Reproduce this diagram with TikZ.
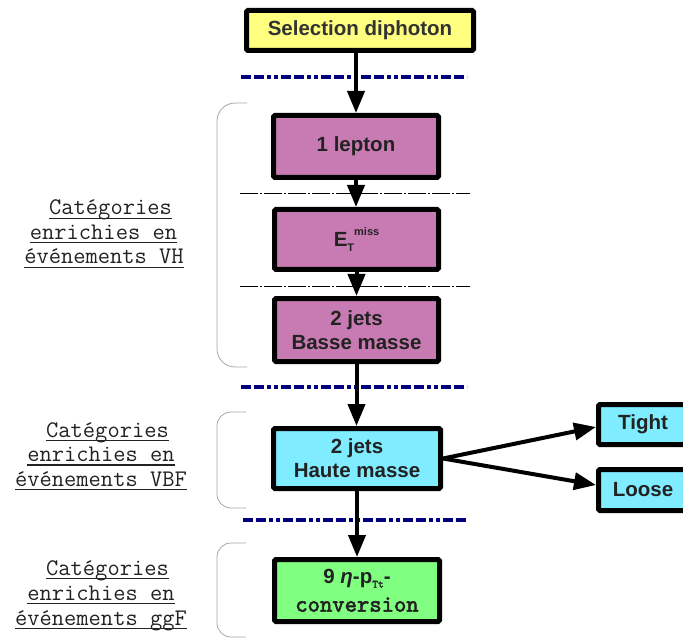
\documentclass[tikz,border=0pt]{standalone}
\usepackage{fontspec}
\setmainfont{Liberation Sans}
\setsansfont{Liberation Sans}
\newfontfamily\convfont{lmmono10-regular.otf}[FakeBold=2.5]
\usetikzlibrary{arrows.meta}
\definecolor{boxyellow}{HTML}{FFFF80}
\definecolor{boxpurple}{HTML}{C87BB2}
\definecolor{boxcyan}{HTML}{80ECFF}
\definecolor{boxgreen}{HTML}{80FF80}
\definecolor{navyline}{HTML}{000080}
\definecolor{inkgray}{HTML}{222222}
\newcommand\myul[1]{\setbox0\hbox{#1}\rlap{\rule[-4pt]{\wd0}{1.1pt}}\box0}
\begin{document}
\begin{tikzpicture}[x=1pt,y=-1pt,
 catbox/.style={draw=black, line width=5pt, rounded corners=1.5pt, font=\fontsize{20.5}{24}\selectfont\bfseries, text=inkgray, align=center, inner sep=0pt},
 flow/.style={line width=4pt, -{Triangle[length=22pt,width=17pt]}},
 navysep/.style={navyline, line width=4.5pt, dash pattern=on 10pt off 3pt on 10pt off 3pt on 4pt off 3pt on 4pt off 3pt},
 thinsep/.style={black, line width=0.8pt, dash pattern=on 18pt off 2pt on 2pt off 2pt},
 bracket/.style={gray!70, line width=0.8pt, rounded corners=18pt},
 cat/.style={anchor=base, font=\fontsize{23.8}{25}\selectfont\ttfamily, text=inkgray, inner sep=0pt}]
\useasboundingbox (0,0) rectangle (683,639);
\clip (0,0) rectangle (683,639);

% separators
\draw[navysep] (241,77) -- (467,77);
\draw[navysep] (241,387) -- (467,387);
\draw[navysep] (243,520) -- (467,520);
\draw[thinsep] (240,193) -- (470,193);
\draw[thinsep] (240,286) -- (470,286);

% brackets
\draw[bracket] (247,103) -- (217,103) -- (217,367) -- (247,367);
\draw[bracket, rounded corners=14pt] (246,412) -- (217,412) -- (217,508) -- (246,508);
\draw[bracket, rounded corners=14pt] (246,543) -- (217,543) -- (217,637) -- (246,637);

% boxes
\node[catbox, fill=boxyellow, text=black!80, minimum width=227pt, minimum height=40pt] (sel) at (360,30.5) {Selection diphoton};
\node[catbox, fill=boxpurple, minimum width=165pt, minimum height=62pt] (lep) at (356,146.5) {1 lepton};
\node[catbox, fill=boxpurple, minimum width=164pt, minimum height=60pt] (met) at (356.5,239.5) {E\raisebox{-5pt}{\fontsize{11}{11}\selectfont T}\raisebox{11pt}{\fontsize{11}{11}\selectfont miss}};
\node[catbox, fill=boxpurple, minimum width=164pt, minimum height=63pt] (jbm) at (356.5,330) {2 jets\\Basse masse};
\node[catbox, fill=boxcyan, minimum width=167pt, minimum height=60pt] (jhm) at (357,458.5) {2 jets\\Haute masse};
\node[catbox, fill=boxcyan, minimum width=89pt, minimum height=40pt] (tight) at (643,424.5) {Tight};
\node[catbox, fill=boxcyan, minimum width=89pt, minimum height=41pt] (loose) at (643,490) {Loose};
\node[catbox, fill=boxgreen, minimum width=165pt, minimum height=62pt, font=\fontsize{20.5}{28}\selectfont\bfseries] (conv) at (357,590.5) {9 \textit{η}-p\raisebox{-4pt}{\fontsize{11}{11}\convfont Tt}-\\{\fontsize{23.5}{28}\convfont conversion}};

% arrows
\draw[flow] (lep.north |- sel.south) -- (lep.north);
\draw[flow] (lep.south) -- (met.north -| lep.south);
\draw[flow] (met.south) -- (jbm.north -| met.south);
\draw[flow] (jbm.south) -- (jhm.north -| jbm.south);
\draw[flow] (jhm.south) -- (conv.north -| jhm.south);
\draw[flow] (jhm.east) -- ([yshift=-2.5pt]tight.west);
\draw[flow] (jhm.east) -- ([yshift=5pt]loose.west);

% labels
\node[cat] (vh1) at (110.5,215) {\myul{Catégories}};
\node[cat] (vh2) at (103.5,239.5) {\myul{enrichies en}};
\node[cat] (vh3) at (104,264) {\myul{événements VH}};
\node[cat] (vbf1) at (107.5,437) {\myul{Catégories}};
\node[cat] (vbf2) at (101,461.5) {\myul{enrichies en}};
\node[cat] (vbf3) at (101,486) {\myul{événements VBF}};
\node[cat] (ggf1) at (107.5,575) {\myul{Catégories}};
\node[cat] (ggf2) at (101,600) {\myul{enrichies en}};
\node[cat] (ggf3) at (101,625) {\myul{événements ggF}};
\end{tikzpicture}
\end{document}
